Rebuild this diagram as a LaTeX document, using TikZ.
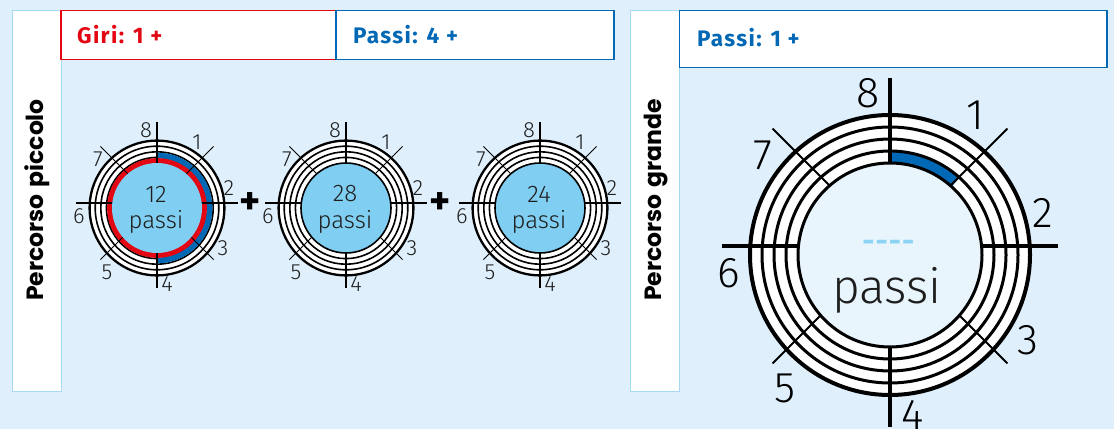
\documentclass[tikz,border=0pt]{standalone}
\usepackage{fontspec}
\IfFontExistsTF{Fira Sans Light}{\newfontfamily\lightf{Fira Sans Light}}{\newfontfamily\lightf{Fira Sans}}
\newfontfamily\headf[LetterSpace=6]{Fira Sans}
\newfontfamily\plainf{Fira Sans}
\IfFontExistsTF{Poppins}{\newfontfamily\vertf{Poppins}}{\newfontfamily\vertf{Fira Sans}}
\definecolor{bg}{HTML}{DFF0FC}
\definecolor{stripb}{HTML}{A5D9F4}
\definecolor{myred}{HTML}{E30613}
\definecolor{myblue}{HTML}{0068B4}
\definecolor{disk}{HTML}{80CEF2}
\definecolor{bigdisk}{HTML}{E8F5FD}
\definecolor{dashc}{HTML}{8CD2F3}
\definecolor{ink}{HTML}{1E1E1E}
\tikzset{
  lbl/.style={font=\lightf\fontsize{22}{24}\selectfont, text=ink, inner sep=0pt},
  lblc/.style={font=\lightf\fontsize{24}{26}\selectfont, text=ink, inner sep=0pt},
  lblB/.style={font=\lightf\fontsize{43}{46}\selectfont, text=black, inner sep=0pt},
  hdr/.style={font=\headf\bfseries\fontsize{22.5}{24}\selectfont, inner sep=0pt, anchor=base west},
  vlbl/.style={font=\vertf\bfseries\fontsize{23.5}{26}\selectfont, rotate=90, inner sep=0pt},
  plus/.style={font=\plainf\bfseries\fontsize{40}{42}\selectfont, inner sep=0pt},
  ringS/.style={line width=1.6pt},
  ringSo/.style={line width=2.3pt},
  spokeS/.style={line width=2.3pt},
  diagS/.style={line width=0.9pt},
  ringB/.style={line width=3pt},
  ringBo/.style={line width=4pt},
  spokeB/.style={line width=3.3pt},
  diagB/.style={line width=1.9pt},
  stripbox/.style={draw=stripb, line width=1pt, fill=white},
}
% #1 x, #2 number, #3 name, #4 code after rings, #5 code after disk
\newcommand\wheelS[5]{%
\begin{scope}[shift={(#1,226)}]
  \fill[white] (0,-5) circle (67.4);
  \draw[ringS] (0,-5) circle (50.6) (0,-5) circle (56.2) (0,-5) circle (61.8);
  \draw[ringSo] (0,-5) circle (67.4);
  #4
  \draw[spokeS] (0,81) -- (0,-85) (-81,0) -- (81,0);
  \draw[diagS] (45:80) -- (225:80) (135:80) -- (-45:80);
  \fill[disk] (0,-5) circle (45);
  #5
  \node[lbl] (#3-8) at (-11,73) {8};
  \node[lbl] (#3-1) at (40,61) {1};
  \node[lbl] (#3-2) at (72,15) {2};
  \node[lbl] (#3-3) at (66,-45) {3};
  \node[lbl] (#3-4) at (10,-81) {4};
  \node[lbl] (#3-5) at (-50,-69) {5};
  \node[lbl] (#3-6) at (-78,-13) {6};
  \node[lbl] (#3-7) at (-59,44) {7};
  \node[lblc] (#3-num) at (-1,9) {#2};
  \node[lblc, anchor=base] (#3-passi) at (-1,-25.3) {passi};
\end{scope}}
\begin{document}
\begin{tikzpicture}[x=1pt,y=1pt]
\fill[bg] (0,0) rectangle (1114,429);
\useasboundingbox (0,0) rectangle (1114,429);
% left panel
\draw[stripbox] (12,37.3) rectangle (61,418.3);
\draw[myred, line width=1.1pt, fill=white] (61,369.7) rectangle (336,418.3);
\draw[myblue, line width=1.1pt, fill=white] (336,369.7) rectangle (614,418.3);
\node[hdr, text=myred] (giri) at (77,385.7) {Giri: 1 +};
\node[hdr, text=myblue] (passi4) at (353,385.7) {Passi: 4 +};
\node[vlbl] (piccolo) at (37,229) {Percorso\hspace{0.3em}piccolo};
% right panel
\draw[stripbox] (630.7,37.3) rectangle (679.3,418.3);
\draw[myblue, line width=1.1pt, fill=white] (679.3,361.7) rectangle (1107,418.3);
\node[hdr, text=myblue] (passi1) at (697,382.3) {Passi: 1 +};
\node[vlbl] (grande) at (655.7,229) {Percorso\hspace{0.3em}grande};
% small wheels
\wheelS{157}{12}{c1}{%
  \fill[myblue] (0,-5) ++(90:55.4) arc[start angle=90, end angle=-90, radius=55.4]
     -- ++(90:5.6) arc[start angle=-90, end angle=90, radius=49.8] -- cycle;
  \fill[myred, even odd rule] (0,-5) circle (49.9) (0,-5) circle (44.5);
}{}
\wheelS{346}{28}{c2}{}{\draw[ringS] (0,-5) circle (45);}
\wheelS{540}{24}{c3}{}{\draw[ringS] (0,-5) circle (45);}
\node[plus] (plusA) at (250,225) {+};
\node[plus] (plusB) at (440,225) {+};
% big wheel
\begin{scope}[shift={(890,183)}]
  \fill[white] (0,-9) circle (140);
  \draw[myblue, line width=11pt] (0,-9) ++(90:98) arc[start angle=90, end angle=48, radius=98];
  \draw[ringB] (0,-9) circle (104) (0,-9) circle (116) (0,-9) circle (128);
  \draw[ringBo] (0,-9) circle (140);
  \draw[spokeB] (0,168) -- (0,-181) (-168,0) -- (168,0);
  \draw[diagB] (45:166) -- (225:166) (135:166) -- (-45:166);
  \fill[bigdisk] (0,-9) circle (92);
  \draw[ringB] (0,-9) circle (92);
  \node[lblB] (b8) at (-21.7,152.7) {8};
  \node[lblB] (b1) at (85,131) {1};
  \node[lblB] (b2) at (152.7,32.7) {2};
  \node[lblB] (b3) at (138.3,-94) {3};
  \node[lblB] (b4) at (22.7,-168.5) {4};
  \node[lblB] (b5) at (-105,-142.3) {5};
  \node[lblB] (b6) at (-161.7,-27.3) {6};
  \node[lblB] (b7) at (-126.7,91) {7};
  \node[font=\plainf\bfseries\fontsize{30}{32}\selectfont, text=dashc, inner sep=0pt] (bdash) at (-1.7,0) {-\kern1pt-\kern1pt-\kern1pt-};
  \node[font=\lightf\fontsize{48}{50}\selectfont, text=ink, inner sep=0pt, anchor=base] (bpassi) at (-3,-57) {passi};
\end{scope}
\end{tikzpicture}
\end{document}
